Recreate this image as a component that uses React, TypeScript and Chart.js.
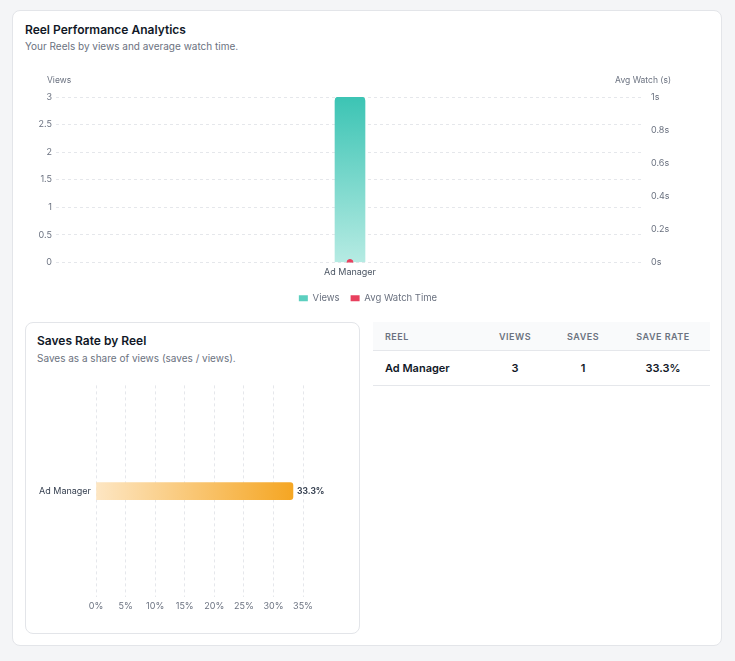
import React, { useEffect, useRef } from "react";
import { Chart, registerables } from "chart.js";

Chart.register(...registerables);

const reels = ["Ad Manager"];
const views = [3];
const avgWatch = [0];
const saves = [1];
const saveRates = [33.3];
const viewTicks = { min: 0, max: 3, step: 0.5 };
const watchTicks = { min: 0, max: 1, step: 0.2 };
const rateTicks = { min: 0, max: 35, step: 5 };

const FONT = "Inter, 'Noto Sans', sans-serif";
Chart.defaults.font.family = FONT;

const axisTitles = {
  id: "axisTitles",
  afterDraw(chart: any) {
    const { ctx, chartArea } = chart;
    ctx.save();
    ctx.font = `8.5px ${FONT}`;
    ctx.fillStyle = "#6b7280";
    ctx.textBaseline = "middle";
    ctx.textAlign = "left";
    ctx.fillText("Views", chartArea.left - 9, 12);
    ctx.textAlign = "right";
    ctx.fillText("Avg Watch (s)", chartArea.right + 27, 12);
    ctx.restore();
  },
};

const barLabels = {
  id: "barLabels",
  afterDatasetsDraw(chart: any) {
    const { ctx } = chart;
    const meta = chart.getDatasetMeta(0);
    ctx.save();
    ctx.font = `bold 8.5px ${FONT}`;
    ctx.fillStyle = "#374151";
    ctx.textBaseline = "middle";
    ctx.textAlign = "left";
    meta.data.forEach((el: any, i: number) => {
      const v = chart.data.datasets[0].data[i];
      ctx.fillText(`${v.toFixed(1)}%`, el.x + 4, el.y);
    });
    ctx.restore();
  },
};

function TopChart() {
  const ref = useRef<HTMLCanvasElement>(null);
  useEffect(() => {
    const chart = new Chart(ref.current!, {
      type: "bar",
      data: {
        labels: reels,
        datasets: [
          {
            type: "bar",
            label: "Views",
            data: views,
            yAxisID: "y",
            barThickness: 30,
            borderRadius: { topLeft: 4, topRight: 4, bottomLeft: 0, bottomRight: 0 },
            borderSkipped: false,
            backgroundColor: (c: any) => {
              const { chart } = c;
              const area = chart.chartArea;
              if (!area) return "#3cc4b4";
              const g = chart.ctx.createLinearGradient(0, area.top, 0, area.bottom);
              g.addColorStop(0, "#3cc4b4");
              g.addColorStop(1, "#b6ebe3");
              return g;
            },
            order: 2,
          } as any,
          {
            type: "line",
            label: "Avg Watch Time",
            data: avgWatch,
            yAxisID: "y1",
            pointRadius: 3,
            pointBackgroundColor: "#e8405e",
            pointBorderColor: "#e8405e",
            borderColor: "#e8405e",
            backgroundColor: "#e8405e",
            order: 1,
          } as any,
        ],
      },
      options: {
        animation: false,
        responsive: false,
        layout: { padding: { top: 29, left: 1, right: 0, bottom: 0 } },
        scales: {
          x: {
            grid: { display: false, drawTicks: false },
            border: { display: false },
            ticks: { color: "#4b5563", font: { size: 9 }, padding: 4 },
            afterFit: (s: any) => { s.height = 20; },
          },
          y: {
            position: "left",
            min: viewTicks.min,
            max: viewTicks.max,
            ticks: { stepSize: viewTicks.step, color: "#6b7280", font: { size: 9 }, padding: 4, callback: (v: any) => `${v}` },
            grid: { color: "#e5e7eb", drawTicks: false },
            border: { display: false, dash: [3, 3] },
            afterFit: (s: any) => { s.width = 30; },
          },
          y1: {
            position: "right",
            min: watchTicks.min,
            max: watchTicks.max,
            ticks: {
              stepSize: watchTicks.step,
              color: "#6b7280",
              font: { size: 9 },
              padding: 7,
              callback: (v: any) => `${Math.round(v * 10) / 10}s`,
            },
            grid: { display: false, drawTicks: false },
            border: { display: false },
            afterFit: (s: any) => { s.width = 66; },
          },
        },
        plugins: {
          legend: {
            position: "bottom",
            labels: {
              boxWidth: 9,
              boxHeight: 6,
              useBorderRadius: true,
              borderRadius: 1,
              color: "#6b7280",
              font: { size: 9.5 },
              padding: 11,
              generateLabels: () => [
                { text: "Views", fillStyle: "#5ccfbf", strokeStyle: "#5ccfbf", lineWidth: 0, datasetIndex: 0, fontColor: "#6b7280" },
                { text: "Avg Watch Time", fillStyle: "#e8405e", strokeStyle: "#e8405e", lineWidth: 0, datasetIndex: 1, fontColor: "#6b7280" },
              ] as any,
            },
          },
          tooltip: { enabled: false },
        },
      },
      plugins: [axisTitles],
    });
    return () => chart.destroy();
  }, []);
  return <canvas ref={ref} width={685} height={245} style={{ position: "absolute", left: 25, top: 68, width: 685, height: 245 }} />;
}

function RateChart() {
  const ref = useRef<HTMLCanvasElement>(null);
  useEffect(() => {
    const chart = new Chart(ref.current!, {
      type: "bar",
      data: {
        labels: reels,
        datasets: [
          {
            label: "Save Rate",
            data: saveRates,
            barThickness: 17,
            borderRadius: { topLeft: 0, bottomLeft: 0, topRight: 3, bottomRight: 3 },
            borderSkipped: false,
            backgroundColor: (c: any) => {
              const { chart } = c;
              const xs = chart.scales.x;
              if (!chart.chartArea || !xs) return "#f5a623";
              const x0 = xs.getPixelForValue(0);
              const x1 = xs.getPixelForValue(c.raw ?? rateTicks.max);
              const g = chart.ctx.createLinearGradient(x0, 0, x1 > x0 ? x1 : x0 + 1, 0);
              g.addColorStop(0, "#fde6c3");
              g.addColorStop(1, "#f5a623");
              return g;
            },
          } as any,
        ],
      },
      options: {
        animation: false,
        responsive: false,
        indexAxis: "y",
        layout: { padding: { top: 10, right: 45, left: 0, bottom: 0 } },
        scales: {
          x: {
            min: rateTicks.min,
            max: rateTicks.max,
            ticks: { stepSize: rateTicks.step, color: "#6b7280", font: { size: 9 }, padding: 4, callback: (v: any) => `${v}%` },
            grid: { color: "#e5e7eb", drawTicks: false },
            border: { display: false, dash: [3, 3] },
            afterFit: (s: any) => { s.height = 23; },
          },
          y: {
            ticks: { color: "#374151", font: { size: 9 }, padding: 5 },
            grid: { display: false, drawTicks: false },
            border: { display: false },
            afterFit: (s: any) => { s.width = 59; },
          },
        },
        plugins: { legend: { display: false }, tooltip: { enabled: false } },
      },
      plugins: [barLabels],
    });
    return () => chart.destroy();
  }, []);
  return <canvas ref={ref} width={311} height={245} style={{ position: "absolute", left: 37, top: 375, width: 311, height: 245 }} />;
}

const th: React.CSSProperties = {
  fontSize: 9,
  fontWeight: 600,
  color: "#6b7280",
  letterSpacing: 0.5,
  textTransform: "uppercase",
  height: 28,
  padding: 0,
  textAlign: "center",
  background: "#f9fafb",
  borderBottom: "1px solid #e5e7eb",
};
const td: React.CSSProperties = {
  fontSize: 11,
  fontWeight: 600,
  color: "#111827",
  height: 34,
  padding: 0,
  textAlign: "center",
  borderBottom: "1px solid #e5e7eb",
};

export default function App() {
  return (
    <div style={{ position: "absolute", left: 0, top: 0, width: 735, height: 661, background: "#f4f5f7", fontFamily: FONT, overflow: "hidden" }}>
      <div style={{ position: "absolute", left: 12, top: 10, width: 708, height: 634, background: "#fff", border: "1px solid #e3e5e9", borderRadius: 8 }} />
      <div style={{ position: "absolute", left: 25, top: 23, fontSize: 12, fontWeight: 600, color: "#111827", lineHeight: "14px" }}>Reel Performance Analytics</div>
      <div style={{ position: "absolute", left: 25, top: 40, fontSize: 10, color: "#6b7280", lineHeight: "12px" }}>Your Reels by views and average watch time.</div>
      <TopChart />
      <div style={{ position: "absolute", left: 25, top: 322, width: 333, height: 310, border: "1px solid #e3e5e9", borderRadius: 8, background: "#fff" }} />
      <div style={{ position: "absolute", left: 37, top: 334, fontSize: 12, fontWeight: 600, color: "#111827", lineHeight: "14px" }}>Saves Rate by Reel</div>
      <div style={{ position: "absolute", left: 37, top: 352, fontSize: 10, color: "#6b7280", lineHeight: "12px" }}>Saves as a share of views (saves / views).</div>
      <RateChart />
      <table style={{ position: "absolute", left: 373, top: 322, width: 337, borderCollapse: "collapse", tableLayout: "fixed" }}>
        <colgroup>
          <col style={{ width: 107 }} />
          <col style={{ width: 70 }} />
          <col style={{ width: 66 }} />
          <col style={{ width: 94 }} />
        </colgroup>
        <thead>
          <tr>
            <th style={{ ...th, textAlign: "left", paddingLeft: 12 }}>Reel</th>
            <th style={th}>Views</th>
            <th style={th}>Saves</th>
            <th style={th}>Save Rate</th>
          </tr>
        </thead>
        <tbody>
          {reels.map((r, i) => (
            <tr key={r}>
              <td style={{ ...td, textAlign: "left", paddingLeft: 12 }}>{r}</td>
              <td style={td}>{views[i]}</td>
              <td style={td}>{saves[i]}</td>
              <td style={td}>{saveRates[i].toFixed(1)}%</td>
            </tr>
          ))}
        </tbody>
      </table>
    </div>
  );
}
